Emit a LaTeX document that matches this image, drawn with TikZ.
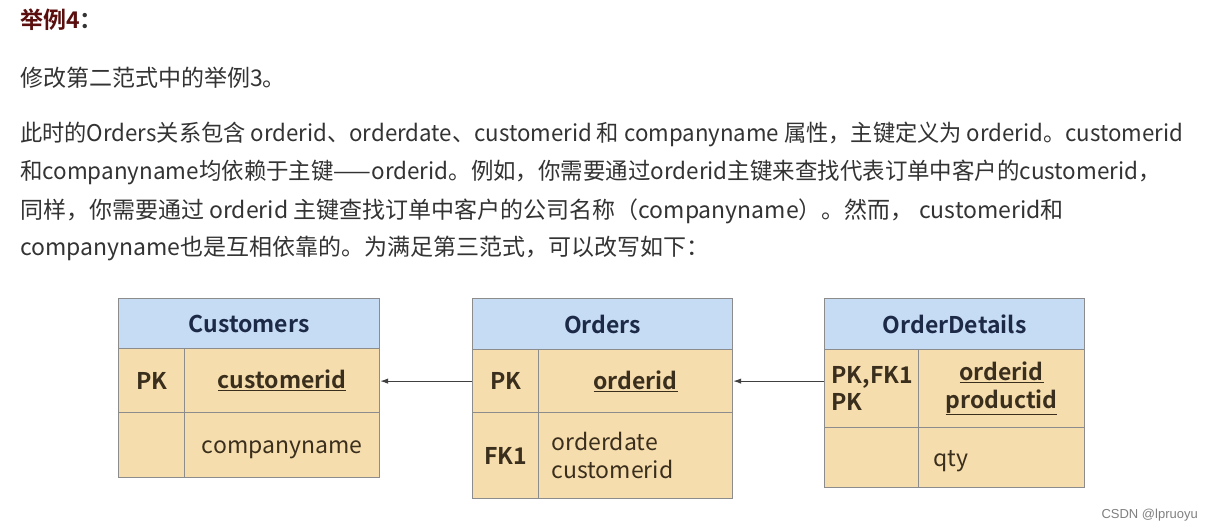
\documentclass[tikz,border=0pt]{standalone}
\usepackage{fontspec}
\setmainfont{Noto Sans CJK SC}[BoldFont={Noto Sans CJK SC Bold}]
\newfontfamily\markfont{Liberation Sans}
\usepackage{xcolor}
\usepackage{graphicx}
\usetikzlibrary{arrows.meta,positioning}

\definecolor{titlered}{HTML}{5A0E0E}
\definecolor{bodygray}{HTML}{333333}
\definecolor{headblue}{HTML}{C6DBF4}
\definecolor{cellsand}{HTML}{F6DDAE}
\definecolor{tblline}{HTML}{8C8C8C}
\definecolor{headtext}{HTML}{1C2A48}
\definecolor{celltext}{HTML}{3A2E1C}
\definecolor{arrowgray}{HTML}{404040}

\begin{document}
\begin{tikzpicture}[
  x=1pt, y=-1pt, >={Latex[length=8pt,width=5.5pt]},
  textline/.style={anchor=west, inner sep=0pt, text=bodygray, font=\fontsize{23}{27}\selectfont},
  head/.style={draw=tblline, line width=1.2pt, fill=headblue, anchor=north west, inner sep=0pt, text=headtext, font=\fontsize{23}{27}\selectfont\bfseries},
  cell/.style={draw=tblline, line width=1.2pt, fill=cellsand, anchor=north west, inner sep=0pt, text=celltext, font=\fontsize{23}{27.5}\selectfont, align=center},
  keycell/.style={cell, font=\fontsize{23}{27.5}\selectfont\bfseries},
  fkarrow/.style={->, line width=1.1pt, draw=arrowgray}
]
\path[use as bounding box, fill=white] (0,0) rectangle (1214,531);

% heading and text
\node[textline, font=\fontsize{23}{27}\selectfont\bfseries] (title) at (20,20) {\textcolor{titlered}{举例4}：};
\node[textline] (intro) at (20,78) {修改第二范式中的举例3。};
\node[textline] (para1) at (20,134) {\resizebox{1163pt}{\height}{此时的Orders关系包含 orderid、orderdate、customerid 和 companyname 属性，主键定义为 orderid。customerid}};
\node[textline] (para2) at (20,172) {\scalebox{0.976}[1]{和companyname均依赖于主键——orderid。例如，你需要通过orderid主键来查找代表订单中客户的customerid，}};
\node[textline] (para3) at (20,211) {同样，你需要通过 orderid 主键查找订单中客户的公司名称（companyname）。然而， customerid和};
\node[textline] (para4) at (20,248) {companyname也是互相依靠的。为满足第三范式，可以改写如下：};

% Customers
\node[head, minimum width=261pt, minimum height=50pt] (custhead) at (118,298) {Customers};
\node[keycell, minimum width=66pt, minimum height=64pt] (custpk) at (118,348) {PK};
\node[keycell, minimum width=195pt, minimum height=64pt] (custkey) at (184,348) {\underline{customerid}};
\node[cell, minimum width=66pt, minimum height=65pt] (custfk) at (118,412) {};
\node[cell, minimum width=195pt, minimum height=65pt] (custattr) at (184,412) {\raisebox{-5pt}[\height][\depth]{companyname}};

% Orders
\node[head, minimum width=260pt, minimum height=51pt] (ordhead) at (472,298) {Orders};
\node[keycell, minimum width=66pt, minimum height=63pt] (ordpk) at (472,349) {PK};
\node[keycell, minimum width=194pt, minimum height=63pt] (ordkey) at (538,349) {\underline{orderid}};
\node[keycell, minimum width=66pt, minimum height=86pt] (ordfk) at (472,412) {FK1};
\node[cell, minimum width=194pt, minimum height=86pt, text width=168pt, align=left] (ordattr) at (538,412) {orderdate\\customerid};

% OrderDetails
\node[head, minimum width=260pt, minimum height=51pt] (dethead) at (824,298) {OrderDetails};
\node[keycell, minimum width=94pt, minimum height=78pt, text width=80pt, align=left] (detpk) at (824,349) {PK,FK1\\PK};
\node[keycell, minimum width=166pt, minimum height=78pt] (detkey) at (918,349) {\underline{orderid}\\\underline{productid}};
\node[cell, minimum width=94pt, minimum height=60pt] (detfk) at (824,427) {};
\node[cell, minimum width=166pt, minimum height=60pt, text width=136pt, align=left] (detattr) at (918,427) {\raisebox{-4pt}[\height][\depth]{qty}};

\draw[fkarrow] (ordpk.west) -- (ordpk.west -| custkey.east);
\draw[fkarrow] (detpk.west |- ordkey.east) -- (ordkey.east);

\node[anchor=east, inner sep=0pt, text=gray, font=\markfont\fontsize{13}{15}\selectfont] (mark) at (1198,515) {CSDN @lpruoyu};
\end{tikzpicture}
\end{document}
